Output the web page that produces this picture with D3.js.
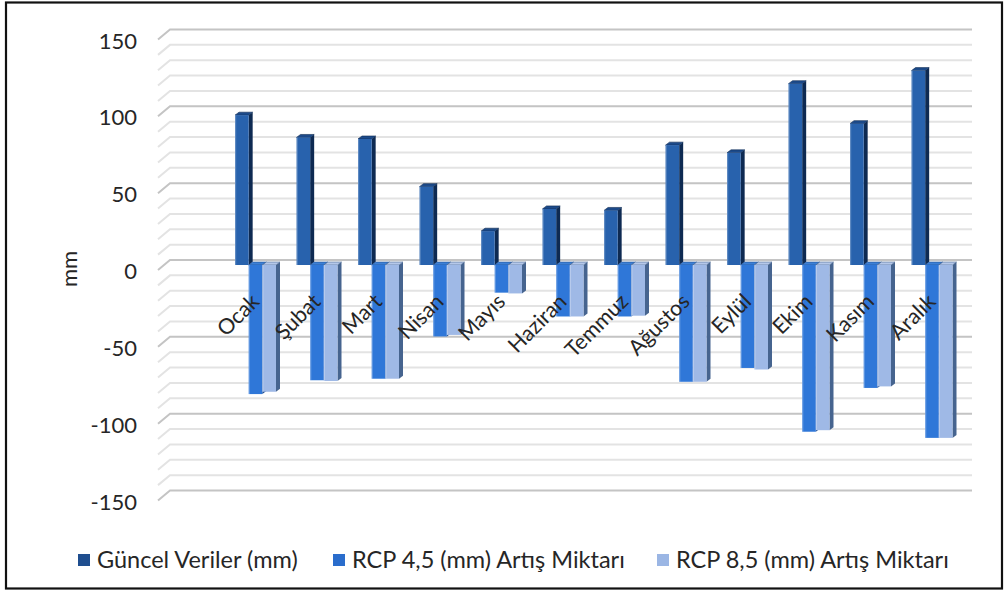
<!DOCTYPE html>
<html>
<head>
<meta charset="utf-8">
<script src="https://cdn.jsdelivr.net/npm/d3@7"></script>
<style>
  html, body { margin: 0; padding: 0; background: #fff; }
  svg text { font-family: Lato, "Open Sans", sans-serif; fill: #262626; }
</style>
</head>
<body>
<svg id="chart" width="1008" height="594"></svg>
<script>
// Monthly precipitation: current values and projected change (mm)
const months = ["Ocak", "Şubat", "Mart", "Nisan", "Mayıs", "Haziran", "Temmuz", "Ağustos", "Eylül", "Ekim", "Kasım", "Aralık"];
const guncel = [97.5, 83, 82, 51, 22, 36.5, 35.5, 78, 73, 118, 92, 126.5];
const rcp45 = [-84, -75, -74, -46.5, -18, -33.5, -33.5, -76, -67, -108.5, -80, -112.5];
const rcp85 = [-82.5, -75.5, -74, -45.5, -18.5, -33.5, -33, -76, -68, -107.5, -79, -112.5];
const seriesNames = ["Güncel Veriler (mm)", "RCP 4,5 (mm) Artış Miktarı", "RCP 8,5 (mm) Artış Miktarı"];
const yTicks = [150, 100, 50, 0, -50, -100, -150];
const yTitle = "mm";

const seriesValues = [guncel, rcp45, rcp85];
const palette = [
  { front: "#2862ad", side: "#0e2a52", top: "#1c4a8a", legend: "#1f4e8f" },
  { front: "#2f77d8", side: "#1d4b8f", top: "#3d80d6", legend: "#2a6dcc" },
  { front: "#9fb9e6", side: "#46648f", top: "#b5c8ea", legend: "#9bb6e4" }
];

const svg = d3.select("#chart");
svg.append("rect").attr("x", 6).attr("y", 2.5).attr("width", 996).attr("height", 586)
  .attr("fill", "#fff").attr("stroke", "#111").attr("stroke-width", 2.2);

// Value scales: back wall, bar plane (half depth) and front edge
const yWall = d3.scaleLinear().domain([-150, 150]).range([490.5, 29.5]);
const depthX = 12, depthY = 10;
const yBar = v => yWall(v) + depthY / 2;

const wallLeft = 170, wallRight = 972;

// Gridlines every 10 mm, with the slanted side-wall segment on the left
const gridVals = d3.range(-150, 151, 10);
const grid = svg.append("g");
gridVals.forEach(v => {
  const major = v % 50 === 0;
  const y = yWall(v);
  grid.append("path")
    .attr("d", `M${wallLeft - depthX},${y + depthY} L${wallLeft},${y} L${wallRight},${y}`)
    .attr("fill", "none")
    .attr("stroke", major ? "#c4c4c4" : "#e3e3e3")
    .attr("stroke-width", 2);
});

// Axis tick labels on the front edge
svg.append("g").selectAll("text").data(yTicks).join("text")
  .attr("x", 137)
  .attr("y", d => yWall(d) + depthY + 0.5)
  .attr("text-anchor", "end")
  .attr("dominant-baseline", "central")
  .style("font-size", "22px")
  .text(d => d);

svg.append("text")
  .attr("transform", "translate(68,269) rotate(-90)")
  .attr("text-anchor", "middle")
  .attr("dominant-baseline", "central")
  .style("font-size", "22px")
  .text(yTitle);

// Category band and series sub-band
const x = d3.scaleBand().domain(months).range([224.75, 962.75]).paddingInner(1 / 3).paddingOuter(1 / 6);
const xs = d3.scaleBand().domain(d3.range(3)).range([0, x.bandwidth()]);
const bx = 4, by = 3;

const bars = svg.append("g");
seriesValues.forEach((vals, si) => {
  const c = palette[si];
  const g = bars.append("g");
  months.forEach((m, i) => {
    const v = vals[i];
    const x0 = x(m) + xs(si), w = xs.bandwidth();
    const top = Math.min(yBar(0), yBar(v)), bot = Math.max(yBar(0), yBar(v));
    g.append("path")
      .attr("d", `M${x0 + w},${top} L${x0 + w + bx},${top - by} L${x0 + w + bx},${bot - by} L${x0 + w},${bot} Z`)
      .attr("fill", c.side);
    g.append("path")
      .attr("d", `M${x0},${top} L${x0 + bx},${top - by} L${x0 + w + bx},${top - by} L${x0 + w},${top} Z`)
      .attr("fill", c.top).attr("stroke", c.side).attr("stroke-width", 0.6);
    g.append("rect")
      .attr("x", x0).attr("y", top).attr("width", w).attr("height", bot - top)
      .attr("fill", c.front);
    g.append("rect")
      .attr("x", x0).attr("y", top).attr("width", 1.2).attr("height", bot - top)
      .attr("fill", "#ffffff").attr("opacity", 0.25);
  });
});

// Category labels, rotated
svg.append("g").selectAll("text").data(months).join("text")
  .attr("transform", d => `translate(${x(d) + x.bandwidth() / 2 + 5},303) rotate(-45)`)
  .attr("text-anchor", "end")
  .style("font-size", "21.5px")
  .text(d => d);

// Legend
const legendX = [78, 333, 657];
const legend = svg.append("g");
seriesNames.forEach((name, i) => {
  legend.append("rect").attr("x", legendX[i]).attr("y", 554).attr("width", 12).attr("height", 12)
    .attr("fill", palette[i].legend);
  legend.append("text").attr("x", legendX[i] + 19).attr("y", 568)
    .style("font-size", "23.5px").text(name);
});
</script>
</body>
</html>
